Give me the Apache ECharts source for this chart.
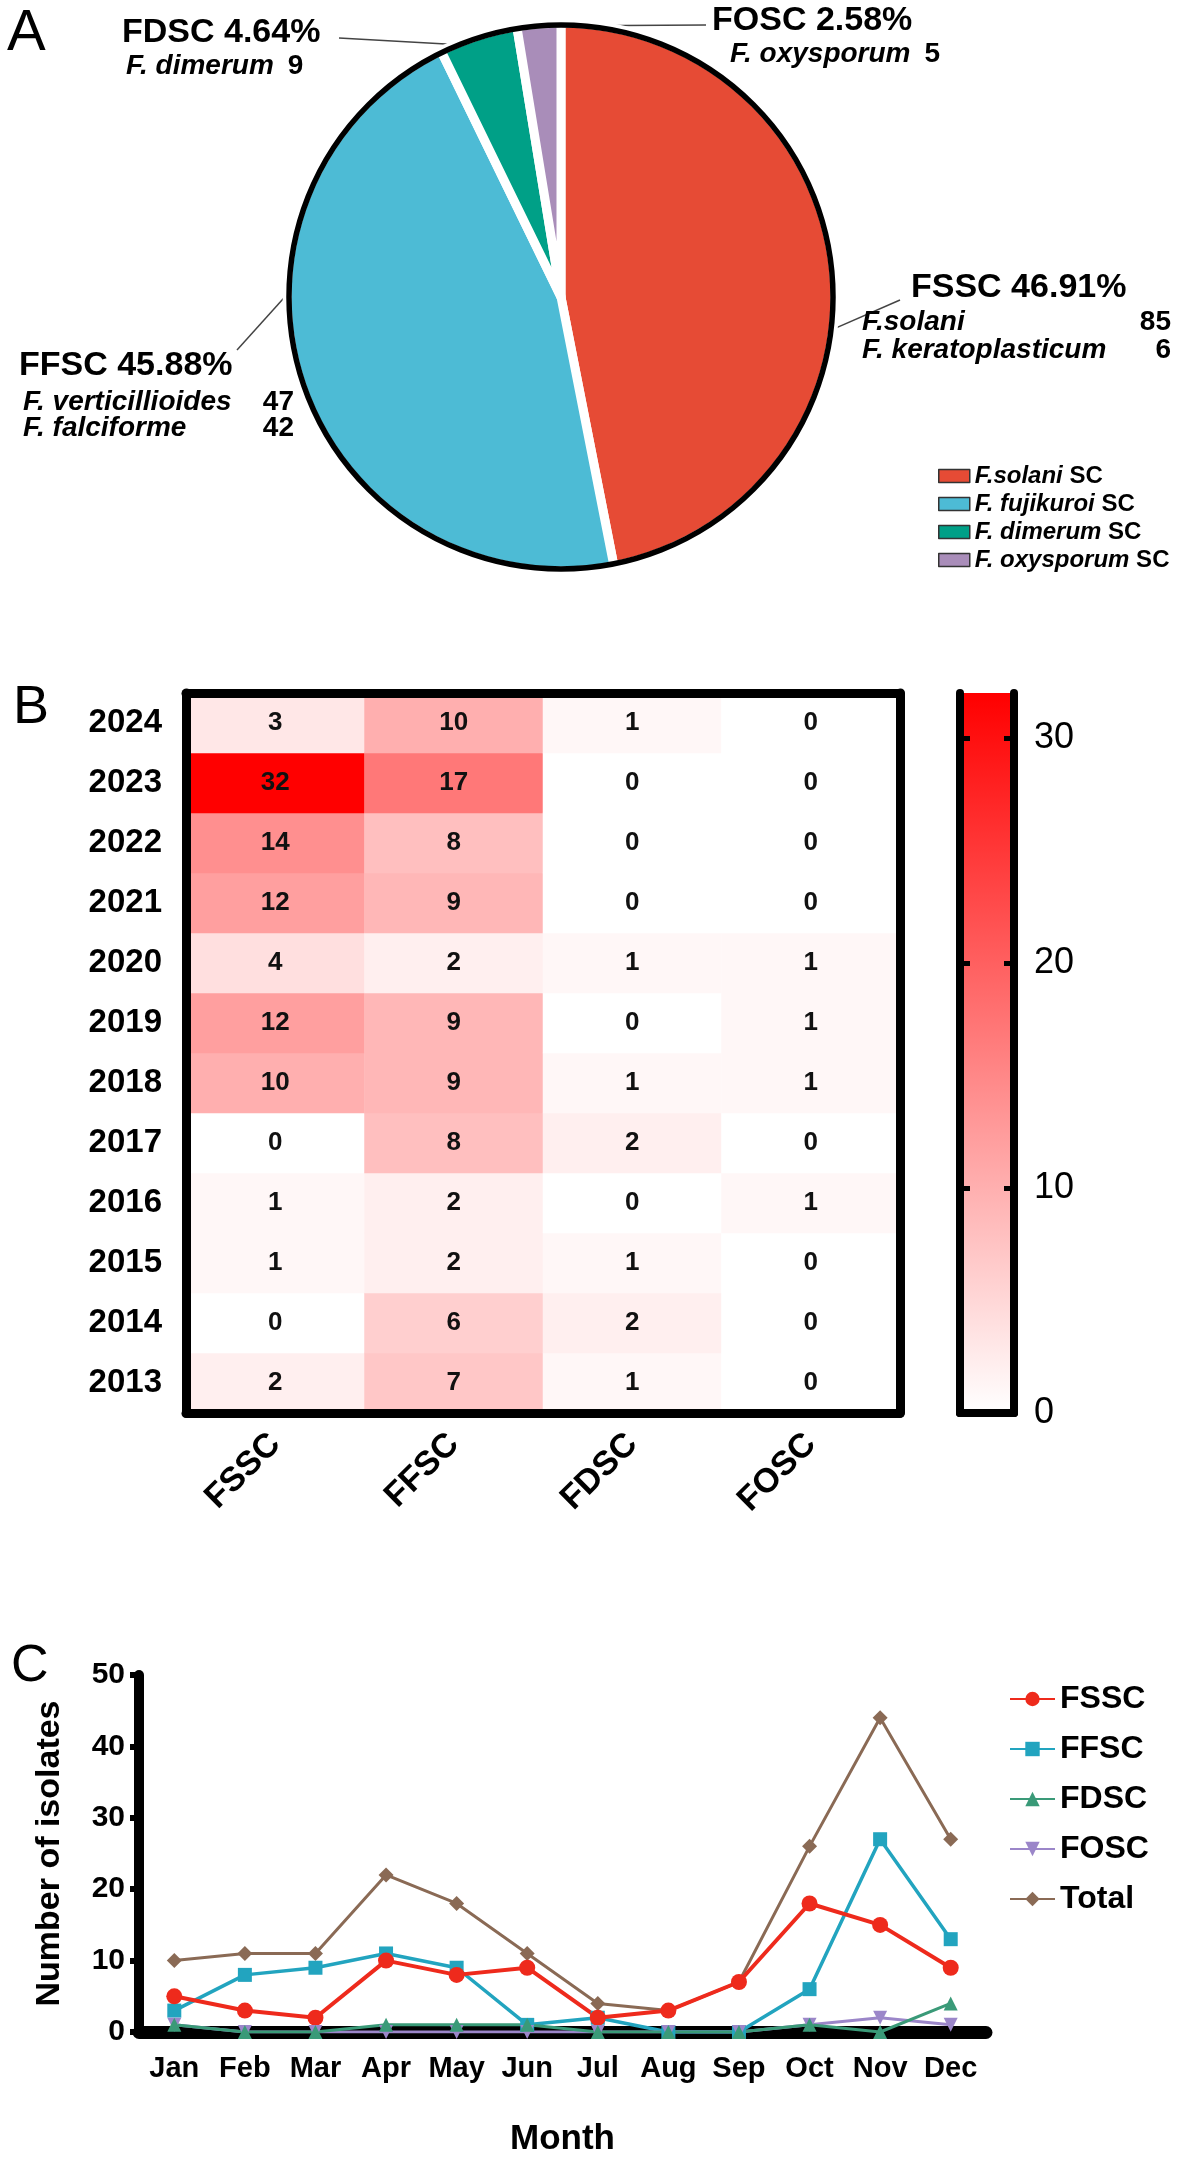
<!DOCTYPE html>
<html>
<head>
<meta charset="utf-8">
<script src="https://cdn.jsdelivr.net/npm/echarts@6/dist/echarts.min.js"></script>
<style>
  html, body { margin: 0; padding: 0; background: #fff; }
  #main { width: 1181px; height: 2158px; }
</style>
</head>
<body>
<div id="main"></div>
<script>
// A: composition of species complexes
const complexNames = ['F.solani SC', 'F. fujikuroi SC', 'F. dimerum SC', 'F. oxysporum SC'];
const complexAbbr = ['FSSC', 'FFSC', 'FDSC', 'FOSC'];
const fsscSpecies = [['F.solani', 85], ['F. keratoplasticum', 6]];
const ffscSpecies = [['F. verticillioides', 47], ['F. falciforme', 42]];
const fdscSpecies = [['F. dimerum', 9]];
const foscSpecies = [['F. oxysporum', 5]];

// B: isolates per year (2013 -> 2024)
const years = ['2013', '2014', '2015', '2016', '2017', '2018', '2019', '2020', '2021', '2022', '2023', '2024'];
const fsscByYear = [2, 0, 1, 1, 0, 10, 12, 4, 12, 14, 32, 3];
const ffscByYear = [7, 6, 2, 2, 8, 9, 9, 2, 9, 8, 17, 10];
const fdscByYear = [1, 2, 1, 0, 2, 1, 0, 1, 0, 0, 0, 1];
const foscByYear = [0, 0, 0, 1, 0, 1, 1, 1, 0, 0, 0, 0];
const colorbarTicks = [0, 10, 20, 30];

// C: isolates per month
const months = ['Jan', 'Feb', 'Mar', 'Apr', 'May', 'Jun', 'Jul', 'Aug', 'Sep', 'Oct', 'Nov', 'Dec'];
const fsscByMonth = [5, 3, 2, 10, 8, 9, 2, 3, 7, 18, 15, 9];
const ffscByMonth = [3, 8, 9, 11, 9, 1, 2, 0, 0, 6, 27, 13];
const fdscByMonth = [1, 0, 0, 1, 1, 1, 0, 0, 0, 1, 0, 4];
const foscByMonth = [1, 0, 0, 0, 0, 0, 0, 0, 0, 1, 2, 1];
const totalByMonth = [10, 11, 11, 22, 18, 11, 4, 3, 7, 26, 44, 27];

const FONT = '"Liberation Sans", Arial, Helvetica, sans-serif';
const pieColors = ['#E64B35', '#4DBBD5', '#00A087', '#A98DB9'];

// pie geometry
const PIE_CX = 561, PIE_CY = 297, PIE_R = 272;

const speciesLists = [fsscSpecies, ffscSpecies, fdscSpecies, foscSpecies];
const pieData = complexNames.map((n, i) => ({
  name: n,
  value: speciesLists[i].reduce((s, d) => s + d[1], 0),
  itemStyle: { color: pieColors[i] }
}));
const pieTotal = pieData.reduce((s, d) => s + d.value, 0);

// label placement for the pie (top-left of each text block) and leader lines
const pieLabelPos = [
  { x: 862, y: 268, angle: 97, end: [900, 300] },
  { x: 19, y: 343, angle: 271, end: [237, 350] },
  { x: 122, y: 14, angle: 338, end: [339, 38] },
  { x: 712, y: 2, angle: 4, end: [706, 25] }
];

const heatRows = [fsscByYear, ffscByYear, fdscByYear, foscByYear];
const heatData = [];
heatRows.forEach((row, ci) => row.forEach((v, yi) => heatData.push([ci, yi, v])));
const heatMax = Math.max(...heatData.map(d => d[2]));

const rich = {
  h0: { fontSize: 34, fontWeight: 'bold', color: '#000', lineHeight: 40, padding: [0, 0, 0, 49] },
  s0: { fontSize: 28, fontWeight: 'bold', fontStyle: 'italic', color: '#000', width: 280, lineHeight: 28 },
  n0: { fontSize: 28, fontWeight: 'bold', color: '#000', width: 29, align: 'right', lineHeight: 28 },
  h1: { fontSize: 34, fontWeight: 'bold', color: '#000', lineHeight: 46 },
  s1: { fontSize: 28, fontWeight: 'bold', fontStyle: 'italic', color: '#000', width: 237, lineHeight: 26, padding: [0, 0, 0, 4] },
  n1: { fontSize: 28, fontWeight: 'bold', color: '#000', width: 34, align: 'right', lineHeight: 26 },
  h2: { fontSize: 34, fontWeight: 'bold', color: '#000', lineHeight: 38 },
  s2: { fontSize: 28, fontWeight: 'bold', fontStyle: 'italic', color: '#000', lineHeight: 28, padding: [0, 0, 0, 4] },
  n2: { fontSize: 28, fontWeight: 'bold', color: '#000', lineHeight: 28, padding: [0, 0, 0, 14] },
  h3: { fontSize: 34, fontWeight: 'bold', color: '#000', lineHeight: 38 },
  s3: { fontSize: 28, fontWeight: 'bold', fontStyle: 'italic', color: '#000', lineHeight: 28, padding: [0, 0, 0, 18] },
  n3: { fontSize: 28, fontWeight: 'bold', color: '#000', lineHeight: 28, padding: [0, 0, 0, 14] }
};

function lineSeries(name, data, color, symbol, size, width, extra) {
  return Object.assign({
    name: name,
    type: 'line',
    xAxisIndex: 4,
    yAxisIndex: 4,
    data: data,
    symbol: symbol,
    symbolSize: size,
    lineStyle: { color: color, width: width },
    itemStyle: { color: color }
  }, extra || {});
}

const chart = echarts.init(document.getElementById('main'), null, { renderer: 'canvas' });

const option = {
  animation: false,
  backgroundColor: '#fff',
  textStyle: { fontFamily: FONT },
  title: [
    { text: 'A', left: 2, top: 0, textStyle: { fontSize: 58, fontWeight: 'normal', color: '#000', fontFamily: FONT } },
    { text: 'B', left: 8, top: 676, textStyle: { fontSize: 54, fontWeight: 'normal', color: '#000', fontFamily: FONT } },
    { text: 'C', left: 6, top: 1636, textStyle: { fontSize: 52, fontWeight: 'normal', color: '#000', fontFamily: FONT } }
  ],
  legend: [
    {
      data: complexNames,
      orient: 'vertical',
      left: 933,
      top: 459,
      itemWidth: 31,
      itemHeight: 13,
      itemGap: 4,
      icon: 'rect',
      itemStyle: { borderColor: '#333', borderWidth: 1.5 },
      formatter: n => `{it|${n.slice(0, -3)}}{sc| SC}`,
      textStyle: {
        rich: {
          it: { fontSize: 24, fontWeight: 'bold', fontStyle: 'italic', color: '#000', fontFamily: FONT },
          sc: { fontSize: 24, fontWeight: 'bold', color: '#000', fontFamily: FONT }
        }
      }
    },
    {
      data: complexAbbr.concat(['Total']),
      orient: 'vertical',
      left: 1004,
      top: 1678,
      itemWidth: 45,
      itemHeight: 18,
      itemGap: 18,
      textStyle: { fontSize: 32, fontWeight: 'bold', color: '#000', fontFamily: FONT }
    }
  ],
  visualMap: {
    type: 'continuous',
    show: false,
    min: 0,
    max: heatMax,
    seriesIndex: 1,
    inRange: { color: ['#ffffff', '#ff0000'] }
  },
  grid: [
    { left: 186, top: 693, width: 714, height: 720 },
    { left: 960, top: 693, width: 54, height: 720 },
    { left: 139, top: 1675, width: 847, height: 378 }
  ],
  xAxis: [
    {
      gridIndex: 0, type: 'category', data: complexAbbr, z: 10,
      axisLine: { lineStyle: { color: '#000', width: 9 } },
      axisTick: { alignWithLabel: true, length: 17, lineStyle: { color: '#000', width: 8 } },
      axisLabel: { rotate: 45, margin: 26, color: '#000', fontSize: 34, fontWeight: 'bold', fontFamily: FONT }
    },
    {
      gridIndex: 0, type: 'category', data: complexAbbr, position: 'top', z: 10,
      axisLine: { lineStyle: { color: '#000', width: 9 } },
      axisTick: { show: false }, axisLabel: { show: false }
    },
    {
      gridIndex: 1, type: 'category', data: ['scale'], z: 10,
      axisLine: { lineStyle: { color: '#000', width: 8 } },
      axisTick: { show: false }, axisLabel: { show: false }
    },
    {
      gridIndex: 1, type: 'category', data: ['scale'], position: 'top', z: 10,
      axisLine: { lineStyle: { color: '#000', width: 8 } },
      axisTick: { show: false }, axisLabel: { show: false }
    },
    {
      gridIndex: 2, type: 'category', data: months, boundaryGap: true,
      name: 'Month', nameLocation: 'middle', nameGap: 90,
      nameTextStyle: { fontSize: 35, fontWeight: 'bold', color: '#000', fontFamily: FONT },
      axisLine: { lineStyle: { color: '#000', width: 13 } },
      axisTick: { alignWithLabel: true, length: 17, lineStyle: { color: '#000', width: 10 } },
      axisLabel: { interval: 0, margin: 22, color: '#000', fontSize: 29, fontWeight: 'bold', fontFamily: FONT }
    }
  ],
  yAxis: [
    {
      gridIndex: 0, type: 'category', data: years, z: 10,
      axisLine: { lineStyle: { color: '#000', width: 9 } },
      axisTick: { alignWithLabel: true, length: 17, lineStyle: { color: '#000', width: 7 } },
      axisLabel: { margin: 24, color: '#000', fontSize: 33, fontWeight: 'bold', fontFamily: FONT }
    },
    {
      gridIndex: 0, type: 'category', data: years, position: 'right', z: 10,
      axisLine: { lineStyle: { color: '#000', width: 9 } },
      axisTick: { show: false }, axisLabel: { show: false }
    },
    {
      gridIndex: 1, type: 'value', min: 0, max: heatMax, position: 'left', z: 10,
      splitLine: { show: false },
      axisLine: { show: true, lineStyle: { color: '#000', width: 8 } },
      axisTick: { show: true, inside: true, length: 10, customValues: colorbarTicks, lineStyle: { color: '#000', width: 5 } },
      axisLabel: { show: false }
    },
    {
      gridIndex: 1, type: 'value', min: 0, max: heatMax, position: 'right', z: 10,
      splitLine: { show: false },
      axisLine: { show: true, lineStyle: { color: '#000', width: 8 } },
      axisTick: { show: true, inside: true, length: 10, customValues: colorbarTicks, lineStyle: { color: '#000', width: 5 } },
      axisLabel: { margin: 20, customValues: colorbarTicks, color: '#000', fontSize: 36, fontFamily: FONT }
    },
    {
      gridIndex: 2, type: 'value', min: 0, max: 50, interval: 10,
      name: 'Number of isolates', nameLocation: 'middle', nameGap: 72, nameRotate: 90,
      nameTextStyle: { fontSize: 34, fontWeight: 'bold', color: '#000', fontFamily: FONT },
      splitLine: { show: false },
      axisLine: { show: true, lineStyle: { color: '#000', width: 10 } },
      axisTick: { show: true, length: 9, lineStyle: { color: '#000', width: 6 } },
      axisLabel: { margin: 14, color: '#000', fontSize: 30, fontWeight: 'bold', fontFamily: FONT }
    }
  ],
  series: [
    {
      type: 'pie',
      center: [PIE_CX, PIE_CY],
      radius: [0, PIE_R + 2],
      startAngle: 90,
      clockwise: true,
      avoidLabelOverlap: false,
      data: pieData,
      itemStyle: { borderColor: '#fff', borderWidth: 9 },
      emphasis: { disabled: true },
      label: {
        show: true,
        position: 'outside',
        fontFamily: FONT,
        formatter: p => {
          const i = p.dataIndex;
          const pct = (p.value / pieTotal * 100).toFixed(2);
          const head = `{h${i}|${complexAbbr[i]} ${pct}%}`;
          const lines = speciesLists[i].map(s => `{s${i}|${s[0]}}{n${i}|${s[1]}}`);
          return [head].concat(lines).join('\n');
        },
        rich: rich
      },
      labelLine: { show: true, length: 10, length2: 10, smooth: false, lineStyle: { color: '#444', width: 1.5 } },
      labelLayout: p => {
        const pos = pieLabelPos[p.dataIndex];
        const a = pos.angle * Math.PI / 180;
        const start = [PIE_CX + PIE_R * Math.sin(a), PIE_CY - PIE_R * Math.cos(a)];
        return {
          x: pos.x, y: pos.y, align: 'left', verticalAlign: 'top',
          labelLinePoints: [start, pos.end, pos.end]
        };
      }
    },
    {
      type: 'heatmap',
      xAxisIndex: 0,
      yAxisIndex: 0,
      data: heatData,
      label: {
        show: true, color: '#111', fontSize: 26, fontWeight: 'bold', fontFamily: FONT,
        formatter: p => p.value[2]
      },
      emphasis: { disabled: true }
    },
    {
      type: 'bar',
      xAxisIndex: 2,
      yAxisIndex: 3,
      data: [heatMax],
      barWidth: '100%',
      silent: true,
      itemStyle: {
        color: new echarts.graphic.LinearGradient(0, 0, 0, 1, [
          { offset: 0, color: '#ff0000' },
          { offset: 1, color: '#ffffff' }
        ])
      }
    },
    lineSeries('Total', totalByMonth, '#8A6A55', 'diamond', 15, 3),
    lineSeries('FFSC', ffscByMonth, '#22A4BF', 'rect', 14, 3.5),
    lineSeries('FSSC', fsscByMonth, '#EE2A1C', 'circle', 16, 4),
    lineSeries('FOSC', foscByMonth, '#9B86C9', 'triangle', 14, 3, { symbolRotate: 180 }),
    lineSeries('FDSC', fdscByMonth, '#3A9A78', 'triangle', 14, 3)
  ],
  graphic: [
    {
      type: 'circle',
      silent: true,
      z: 100,
      shape: { cx: PIE_CX, cy: PIE_CY, r: PIE_R },
      style: { fill: null, stroke: '#000', lineWidth: 5.5 }
    }
  ]
};

chart.setOption(option);
window.addEventListener('resize', () => chart.resize());
</script>
</body>
</html>
